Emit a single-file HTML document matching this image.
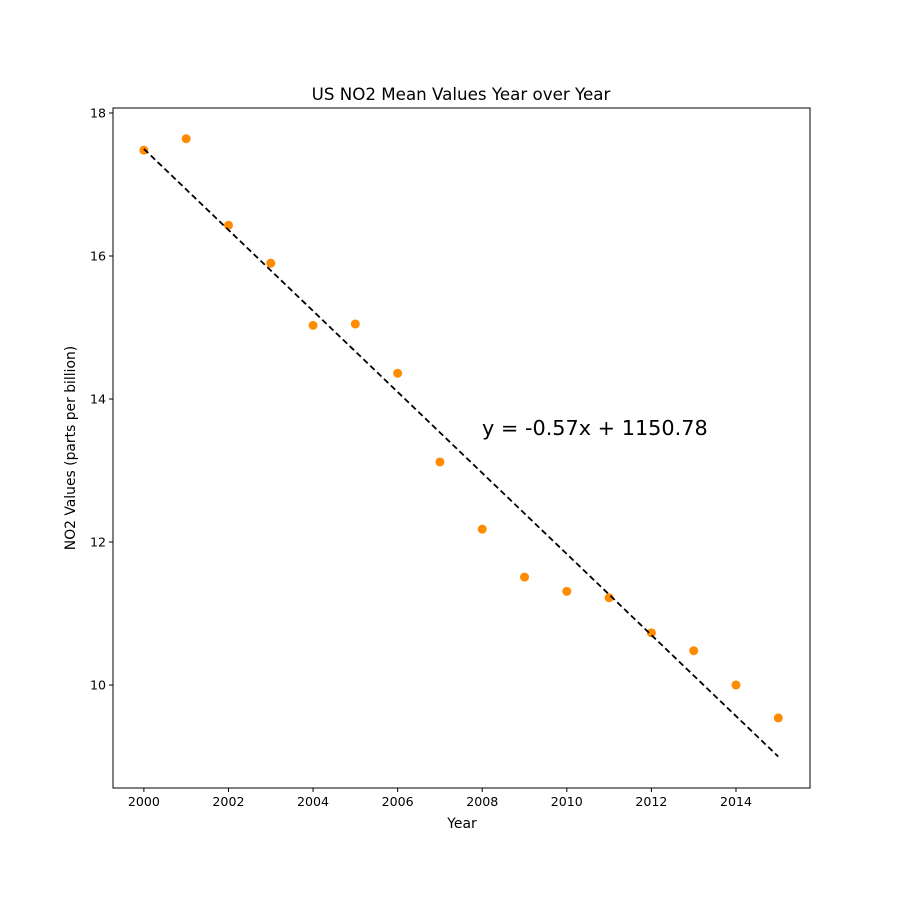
<!DOCTYPE html>
<html><head><meta charset="utf-8"><style>
body{margin:0;background:#fff;}
svg text{font-family:"DejaVu Sans","Liberation Sans",sans-serif;fill:#000;}
</style></head><body>
<svg id="chart" width="900" height="900" xmlns="http://www.w3.org/2000/svg">
<rect width="900" height="900" fill="#fff"/>
<text x="461" y="100" font-size="16.7" text-anchor="middle">US NO2 Mean Values Year over Year</text>
<text x="462" y="828" font-size="13.9" text-anchor="middle">Year</text>
<text transform="translate(75,448) rotate(-90)" font-size="13.9" text-anchor="middle">NO2 Values (parts per billion)</text>
<g id="marks"></g>
<rect x="113" y="108" width="697" height="680" fill="none" stroke="#000" stroke-width="1"/>
<text x="482" y="435" font-size="20.8">y = -0.57x + 1150.78</text>
</svg>
<script>
const years=[2000,2001,2002,2003,2004,2005,2006,2007,2008,2009,2010,2011,2012,2013,2014,2015];
const no2=[17.48,17.64,16.43,15.90,15.03,15.05,14.36,13.12,12.18,11.51,11.31,11.22,10.73,10.48,10.0,9.54];
const xTicks=[2000,2002,2004,2006,2008,2010,2012,2014];
const yTicks=[10,12,14,16,18];
const X0=113,X1=810,Y0=788,Y1=108;
const xMin=1999.27,xMax=2015.75,yMin=8.56,yMax=18.07;
const xs=v=>X0+(v-xMin)/(xMax-xMin)*(X1-X0);
const ys=v=>Y0-(v-yMin)/(yMax-yMin)*(Y0-Y1);
const NS="http://www.w3.org/2000/svg";
const g=document.getElementById('marks');
function mk(t,a){const e=document.createElementNS(NS,t);for(const k in a)e.setAttribute(k,a[k]);g.appendChild(e);return e;}
xTicks.forEach(t=>{
 const l=mk('line',{x1:xs(t),x2:xs(t),y1:Y0,y2:Y0+4,stroke:'#000'});
 
 
 const tx=mk('text',{x:xs(t),y:Y0+18,'font-size':12.6,'text-anchor':'middle'});tx.textContent=t;
 
 
});
yTicks.forEach(t=>{
 const l=mk('line',{x1:X0-4,x2:X0,y1:ys(t),y2:ys(t),stroke:'#000'});
 
 
 const tx=mk('text',{x:X0-7,y:ys(t)+4.5,'font-size':12.6,'text-anchor':'end'});tx.textContent=t;
 
 
});
years.forEach((y,i)=>{
 const c=mk('circle',{cx:xs(y),cy:ys(no2[i]),r:4.5,fill:'#ff8c00'});
 
 
});
const n=years.length,mx=years.reduce((a,b)=>a+b)/n,my=no2.reduce((a,b)=>a+b)/n;
let sxy=0,sxx=0;years.forEach((x,i)=>{sxy+=(x-mx)*(no2[i]-my);sxx+=(x-mx)*(x-mx);});
const m=sxy/sxx,b=my-m*mx;
const xa=years[0],xb=years[n-1];
const ln=mk('line',{x1:xs(xa),y1:ys(m*xa+b),x2:xs(xb),y2:ys(m*xb+b),stroke:'#000','stroke-width':1.8,'stroke-dasharray':'6,3.5'});


</script>
</body></html>
